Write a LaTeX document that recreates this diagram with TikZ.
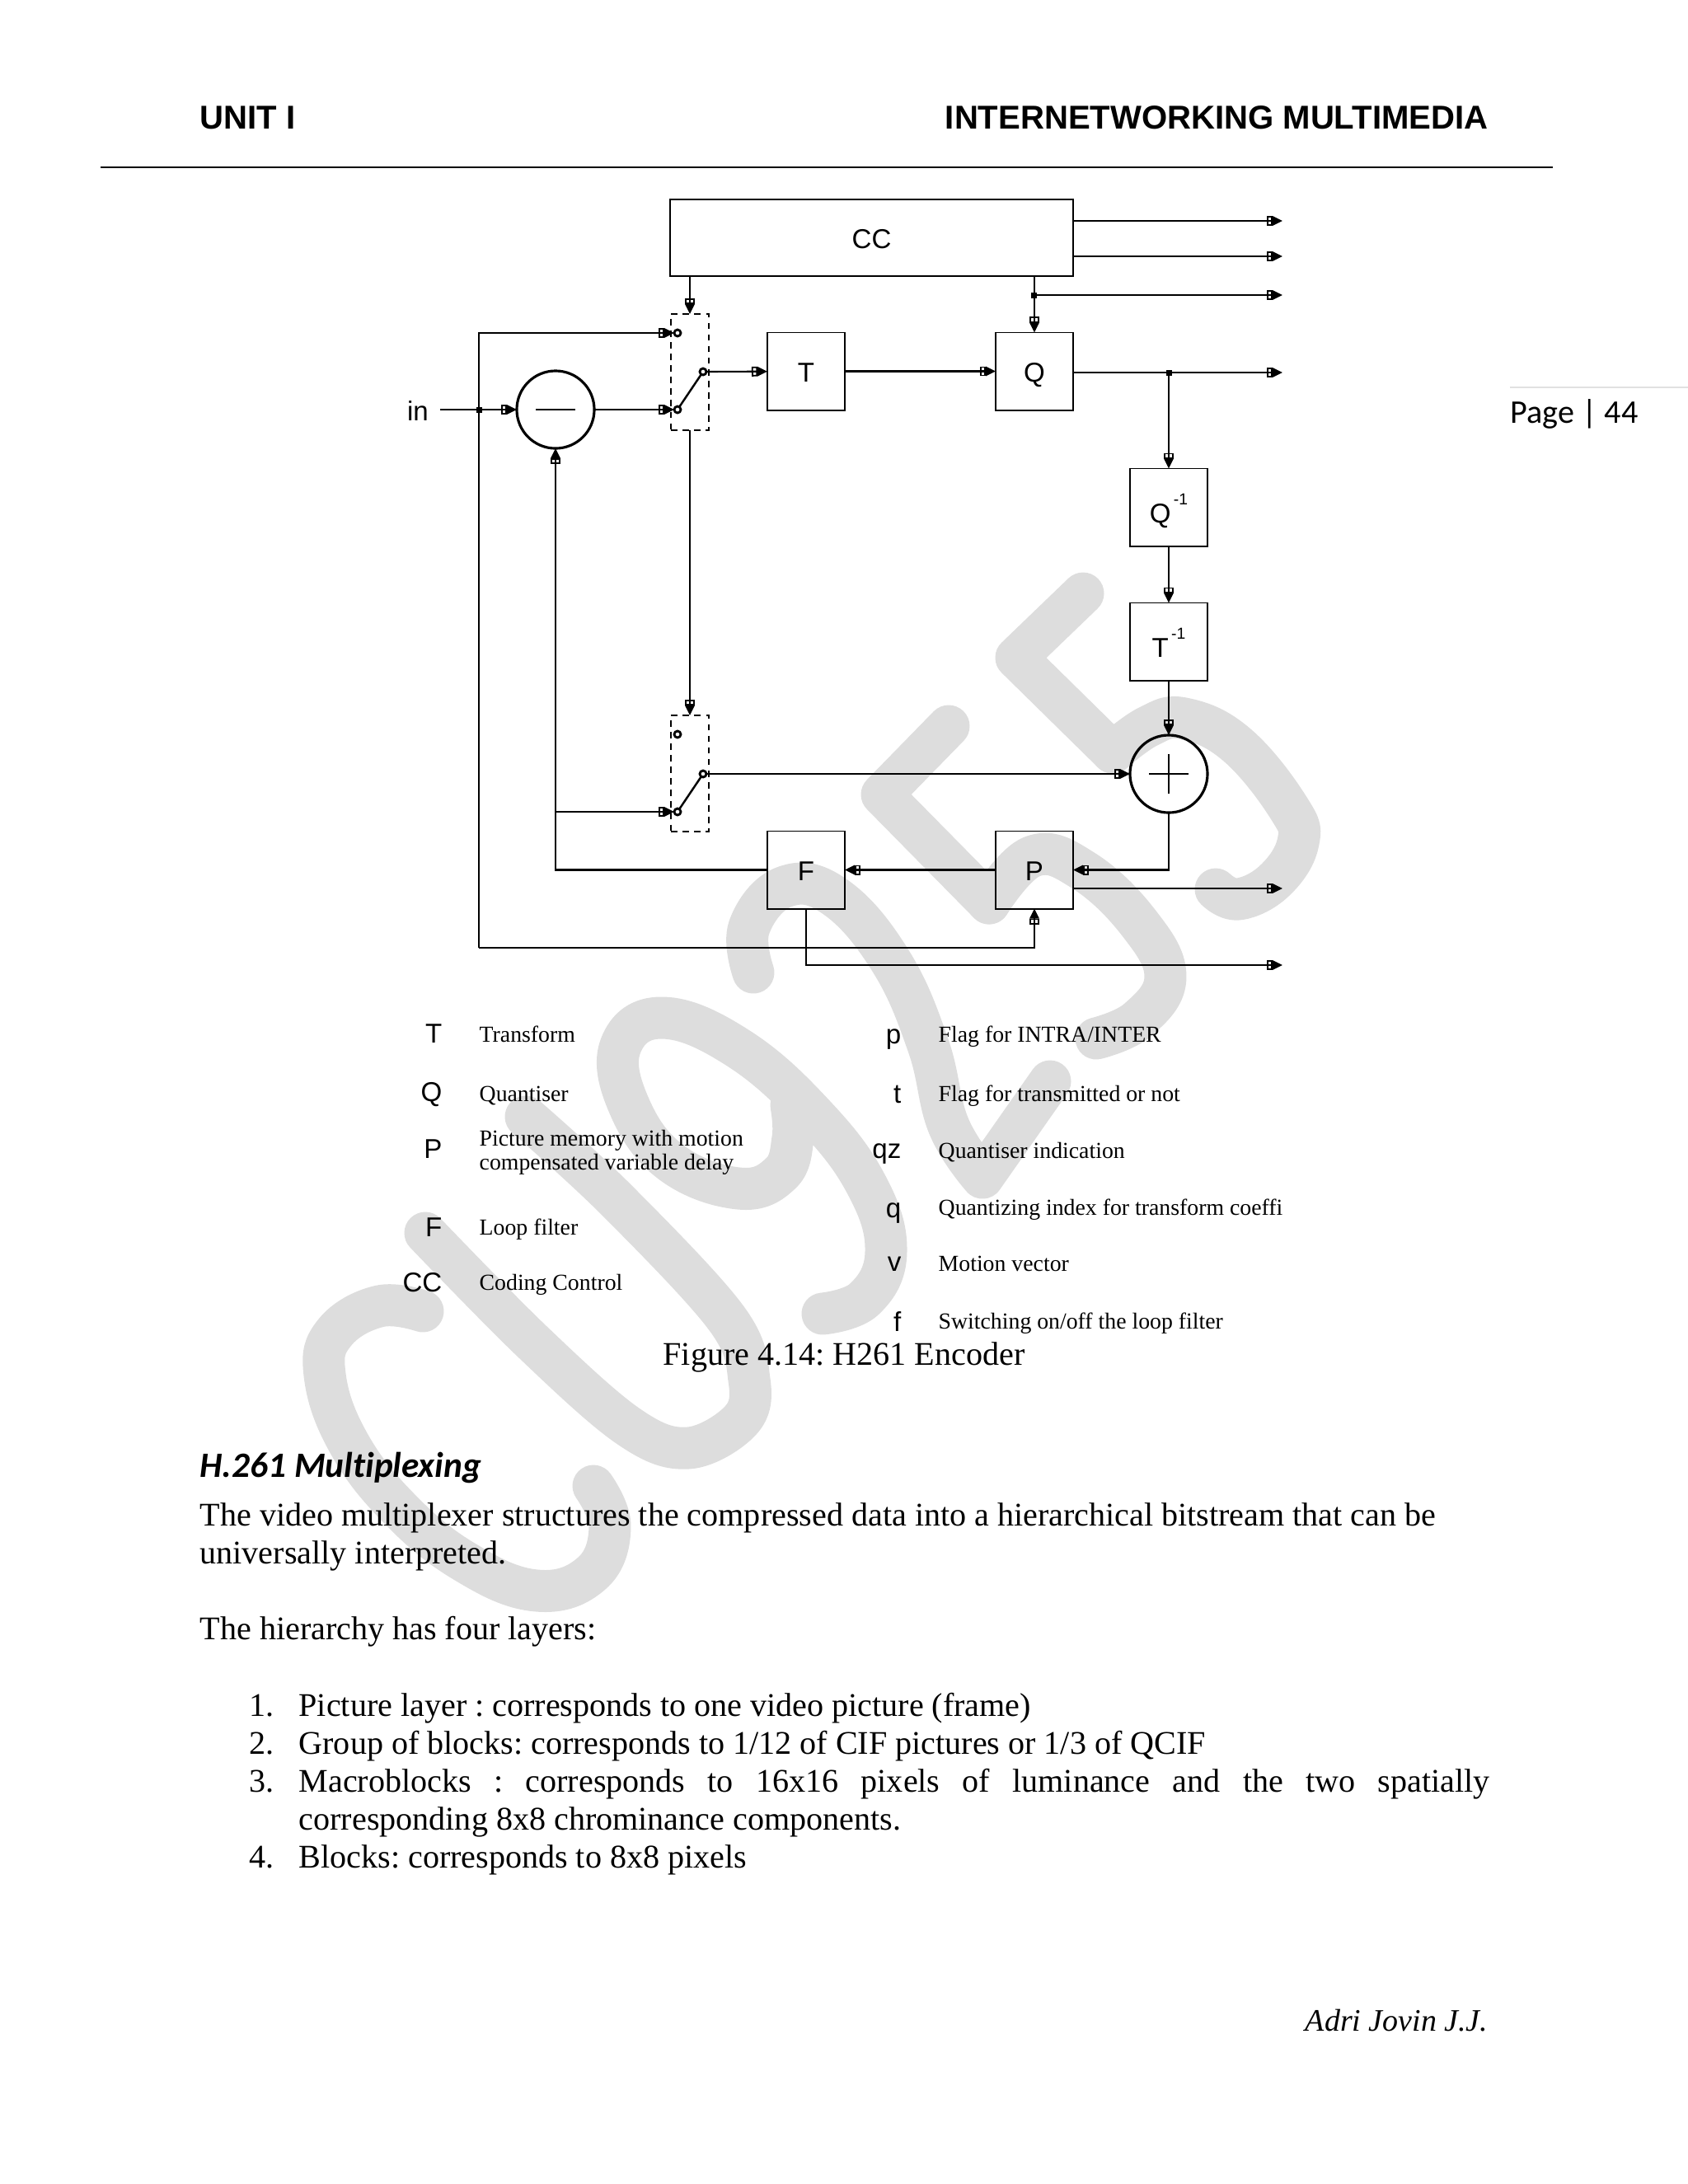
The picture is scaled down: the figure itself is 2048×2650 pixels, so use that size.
\documentclass[tikz,border=0pt]{standalone}
\usepackage{fontspec}
\setmainfont{Liberation Serif}
\newfontfamily\headfont{Liberation Sans}
\newfontfamily\sidefont[Ligatures=NoCommon]{Carlito}
\usetikzlibrary{arrows.meta}
\frenchspacing

\definecolor{cwmark}{RGB}{221,221,221}
\definecolor{crule}{RGB}{225,225,225}

\begin{document}
\begin{tikzpicture}[x=0.01cm,y=-0.01cm,
        blk/.style={rectangle,draw=black,line width=0.55pt,inner sep=0pt,outer sep=0pt,minimum size=0.94cm,
                    text height=0.72em,text depth=0pt,font=\headfont\fontsize{9.4}{11}\selectfont},
        opnode/.style={circle,draw=black,line width=0.9pt,inner sep=0pt,outer sep=0pt,minimum size=0.94cm},
        swbox/.style={rectangle,draw=black,line width=0.5pt,dash pattern=on 2.2pt off 1.8pt,inner sep=0pt,
                      outer sep=0pt,minimum width=0.46cm,minimum height=1.41cm},
        cont/.style={circle,draw=black,fill=white,line width=0.8pt,inner sep=0pt,outer sep=0pt,minimum size=0.08cm},
        jdot/.style={rectangle,fill=black,inner sep=0pt,outer sep=0pt,minimum size=0.07cm},
        sig/.style={line width=0.6pt,-{Rectangle[open,length=2pt,width=3.4pt,line width=0.5pt]Triangle[length=3.4pt,width=3.2pt]}},
        wire/.style={line width=0.6pt},
        wmark/.style={draw=cwmark,line width=14.5pt,line cap=round,line join=round},
        symlab/.style={anchor=base east,font=\headfont\fontsize{9.4}{11}\selectfont,inner sep=0pt},
        leglab/.style={anchor=base west,font=\fontsize{7.9}{9}\selectfont,inner sep=0pt},
        bodytxt/.style={anchor=base west,font=\fontsize{11.4}{13}\selectfont,inner sep=0pt}]

      \useasboundingbox (0,0) rectangle (2048,2650);

      % watermark
      \draw[wmark] plot[smooth,tension=0.7] coordinates {(513,1591) (460,1585) (406,1617) (394,1668) (422,1749)
                     (483,1829) (564,1895) (651,1930) (718,1909) (740,1852) (720,1803)};
      \draw[wmark] plot[smooth,tension=0.6] coordinates {(516,1496) (646,1628) (763,1731) (835,1757) (899,1723)
                     (909,1674) (881,1599) (748,1456) (638,1355)};
      \draw[wmark] plot[smooth,tension=0.7] coordinates {(998,1594) (1049,1576) (1075,1519) (1052,1439) (988,1353)
                     (896,1272) (804,1235) (753,1269) (763,1341) (814,1410) (896,1442) (947,1424) (962,1381) (960,1341)};
      \draw[wmark] plot[smooth,tension=0.7] coordinates {(914,1180) (909,1125) (952,1076) (1013,1088) (1080,1165)
                     (1126,1268) (1151,1366) (1192,1429)} -- (1274,1312);
      \draw[wmark] (1151,881) -- (1070,964) -- (1200,1096);
      \draw[wmark] plot[smooth,tension=0.7] coordinates {(1200,1096) (1253,1039) (1314,1056) (1381,1119) (1414,1185)
                     (1381,1237) (1330,1260)};
      \draw[wmark] (1314,720) -- (1233,798) -- (1350,913);
      \draw[wmark] plot[smooth,tension=0.7] coordinates {(1350,913) (1394,881) (1437,872) (1501,904) (1564,981)
                     (1575,1022) (1547,1068) (1503,1091) (1475,1079)};

      % header
      \node[anchor=base west,font=\headfont\bfseries\fontsize{11.4}{15}\selectfont,inner sep=0pt] (unitlab) at (242,156) {UNIT I};
      \node[anchor=base east,font=\headfont\bfseries\fontsize{11.4}{15}\selectfont,inner sep=0pt] (titlelab) at (1806,156) {INTERNETWORKING MULTIMEDIA};
      \draw[line width=0.6pt] (122,203) -- (1884,203);
      \draw[crule,line width=0.4pt] (1832,470) -- (2048,470);
      \node[anchor=base west,font=\sidefont\fontsize{11.4}{13}\selectfont,inner sep=0pt] (pagelab) at (1832,513) {Page | 44};

      % blocks
      \node[blk,minimum width=4.88cm,minimum height=0.93cm] (ccbox) at (1057.5,288.5) {CC};
      \node[blk] (tbox) at (978,450.5) {T};
      \node[blk] (qbox) at (1255,450.5) {Q};
      \node[blk,text height=1.1em] (qinv) at (1418,615.5) {Q\raisebox{1.3ex}{\fontsize{5.5}{6}\selectfont\,-1}};
      \node[blk,text height=1.1em] (tinv) at (1418,778.5) {T\raisebox{1.3ex}{\fontsize{5.5}{6}\selectfont\,-1}};
      \node[blk] (fbox) at (978,1055.5) {F};
      \node[blk] (pbox) at (1255,1055.5) {P};
      \node[opnode] (minus) at (674,497) {};
      \node[opnode] (plus) at (1418,939) {};
      \draw[line width=0.5pt] (minus.center) +(-24,0) -- +(24,0);
      \draw[line width=0.4pt] (plus.center) +(-24,0) -- +(24,0);
      \draw[line width=0.4pt] (plus.center) +(0,-24) -- +(0,24);
      \node[font=\headfont\fontsize{9.4}{11}\selectfont,inner sep=0pt] (inlab) at (507,499) {in};

      % switches
      \node[swbox] (swabox) at (837,451.5) {};
      \node[swbox] (swbbox) at (837,938.5) {};
      \node[cont] (swatop) at (822,404) {};
      \node[cont] (swabot) at (822,497) {};
      \node[cont] (swaout) at (853,451) {};
      \node[cont] (swbtop) at (822,891) {};
      \node[cont] (swbbot) at (822,985) {};
      \node[cont] (swbout) at (853,939) {};
      \draw[line width=0.7pt] (swabot) -- (swaout);
      \draw[line width=0.7pt] (swbbot) -- (swbout);

      % junctions and free ends
      \node[jdot] (indot) at (581,497) {};
      \node[jdot] (qdot) at (1254,358) {};
      \node[jdot] (qjunc) at (1418,452) {};
      \coordinate (instart) at (534,497);
      \coordinate (loopcor) at (581,1150);
      \coordinate (fbjoin) at (674,985);
      \coordinate (outa) at (1556,268);
      \coordinate (outb) at (1556,311);
      \coordinate (outc) at (1556,358);
      \coordinate (outd) at (1556,452);
      \coordinate (oute) at (1556,1078);
      \coordinate (outf) at (1556,1171);

      % signal paths
      \draw[wire] (instart) -- (indot);
      \draw[sig] (indot) -- (minus);
      \draw[sig] (minus) -- (swabot);
      \draw[sig] (indot) |- (swatop);
      \draw[sig] (loopcor) -| (pbox.south);
      \draw[wire] (indot) -- (loopcor);
      \draw[sig] (ccbox.south -| swabox) -- (swabox.north);
      \draw[sig] (swaout) -- (tbox);
      \draw[sig] (tbox) -- (qbox);
      \draw[sig] (ccbox.south -| qbox) -- (qbox.north);
      \draw[sig] (qdot) -- (outc);
      \draw[sig] (ccbox.east |- outa) -- (outa);
      \draw[sig] (ccbox.east |- outb) -- (outb);
      \draw[wire] (qbox.east |- outd) -- (qjunc);
      \draw[sig] (qjunc) -- (outd);
      \draw[sig] (qjunc) -- (qinv);
      \draw[sig] (qinv) -- (tinv);
      \draw[sig] (tinv) -- (plus);
      \draw[sig] (swabox.south) -- (swbbox.north);
      \draw[sig] (swbout) -- (plus);
      \draw[sig] (plus.south) |- (pbox.east);
      \draw[sig] (pbox) -- (fbox);
      \draw[sig] (fbox.west) -| (minus.south);
      \draw[sig] (fbjoin) -- (swbbot);
      \draw[sig] (pbox.east |- oute) -- (oute);
      \draw[sig] (fbox.south) |- (outf);

      % legend
      \node[symlab] (syt) at (537,1265) {T};
      \node[symlab] (syq) at (537,1336) {Q};
      \node[symlab] (syp) at (537,1405) {P};
      \node[symlab] (syf) at (537,1500) {F};
      \node[symlab] (syc) at (537,1567) {CC};
      \node[symlab] (syfp) at (1094,1266) {p};
      \node[symlab] (syft) at (1094,1338) {t};
      \node[symlab] (syqz) at (1094,1405) {qz};
      \node[symlab] (syqi) at (1094,1477) {q};
      \node[symlab] (syv) at (1094,1542) {v};
      \node[symlab] (syfl) at (1094,1615) {f};
      \node[leglab] (lgt) at (581,1264) {Transform};
      \node[leglab] (lgq) at (581,1336) {Quantiser};
      \node[leglab] (lgpa) at (581,1390) {Picture memory with motion};
      \node[leglab] (lgpb) at (581,1419) {compensated variable delay};
      \node[leglab] (lgf) at (581,1498) {Loop filter};
      \node[leglab] (lgc) at (581,1565) {Coding Control};
      \node[leglab] (lgfp) at (1138,1264) {Flag for INTRA/INTER};
      \node[leglab] (lgft) at (1138,1336) {Flag for transmitted or not};
      \node[leglab] (lgqz) at (1138,1405) {Quantiser indication};
      \node[leglab] (lgqi) at (1138,1474) {Quantizing index for transform coeffi};
      \node[leglab] (lgv) at (1138,1542) {Motion vector};
      \node[leglab] (lgfl) at (1138,1612) {Switching on/off the loop filter};

      % text below the figure
      \node[font=\fontsize{11.4}{13}\selectfont,anchor=base,inner sep=0pt] (figcap) at (1024,1656) {Figure 4.14: H261 Encoder};
      \node[anchor=base west,font=\sidefont\bfseries\itshape\fontsize{12.3}{15}\selectfont,inner sep=0pt] (sechead) at (242,1792) {H.261 Multiplexing};
      \node[bodytxt] (bodya) at (242,1851) {The video multiplexer structures the compressed data into a hierarchical bitstream that can be};
      \node[bodytxt] (bodyb) at (242,1897) {universally interpreted.};
      \node[bodytxt] (bodyc) at (242,1989) {The hierarchy has four layers:};
      \node[bodytxt] (numa) at (302,2082) {1.};
      \node[bodytxt] (numb) at (302,2128) {2.};
      \node[bodytxt] (numc) at (302,2174) {3.};
      \node[bodytxt] (numd) at (302,2266) {4.};
      \node[bodytxt] (itema) at (362,2082) {Picture layer : corresponds to one video picture (frame)};
      \node[bodytxt] (itemb) at (362,2128) {Group of blocks: corresponds to 1/12 of CIF pictures or 1/3 of QCIF};
      \node[bodytxt] (itemc) at (362,2174) {\makebox[14.44cm][s]{Macroblocks : corresponds to 16x16 pixels of luminance and the two spatially}};
      \node[bodytxt] (itemd) at (362,2220) {corresponding 8x8 chrominance components.};
      \node[bodytxt] (iteme) at (362,2266) {Blocks: corresponds to 8x8 pixels};
      \node[anchor=base east,font=\itshape\fontsize{10.8}{13}\selectfont,inner sep=0pt] (signlab) at (1806,2464) {Adri Jovin J.J.};
    \end{tikzpicture}
\end{document}
